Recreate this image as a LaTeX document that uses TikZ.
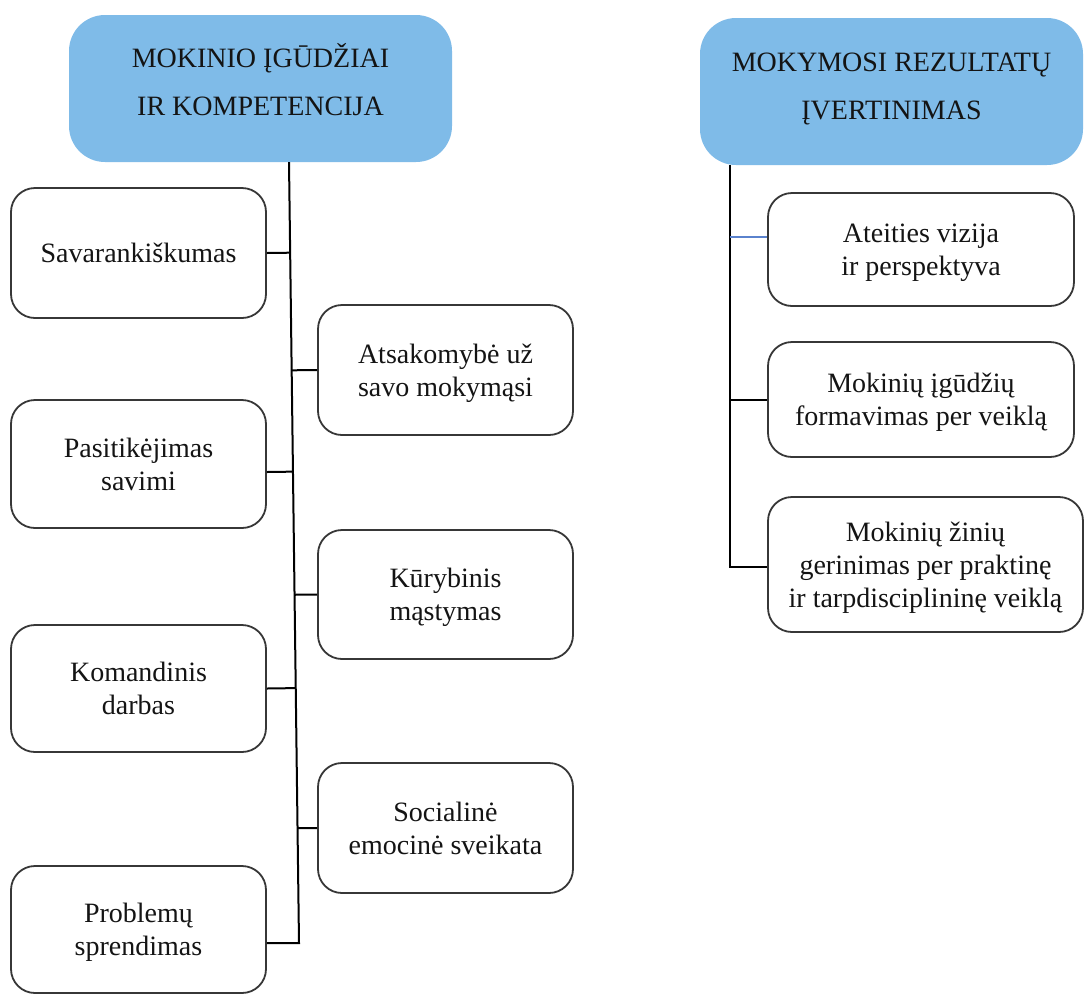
\documentclass[tikz,border=0pt]{standalone}
\usepackage{fontspec}
\setmainfont{Liberation Serif}
\usetikzlibrary{calc}
\definecolor{hdrblue}{RGB}{127,187,232}
\definecolor{boxline}{RGB}{55,55,55}
\definecolor{linkblue}{RGB}{90,130,205}
\definecolor{ink}{RGB}{20,20,20}
\begin{document}
\begin{tikzpicture}[x=1pt,y=-1pt,
  header/.style={fill=hdrblue, rounded corners=36pt, align=center, text=ink,
    font=\fontsize{28}{48}\selectfont, inner sep=0pt},
  item/.style={draw=boxline, line width=1.8pt, fill=white, rounded corners=24pt,
    align=center, text=ink, font=\fontsize{28}{33}\selectfont, inner sep=0pt,
    text depth=-7.5pt},
  leftitem/.style={item, minimum width=255pt},
  rightitem/.style={item, minimum width=306pt},
  link/.style={line width=2pt, black},
  bluelink/.style={line width=2pt, linkblue}]
\useasboundingbox (0,0) rectangle (1084,994);

% headers
\node[header, minimum width=383pt, minimum height=147pt] (hdrL) at (260.5,88.5)
  {MOKINIO ĮGŪDŽIAI\\IR KOMPETENCIJA\rule[-18pt]{0pt}{18pt}};
\node[header, minimum width=383pt, minimum height=147pt] (hdrR) at (891.5,91.5)
  {MOKYMOSI REZULTATŲ\\ĮVERTINIMAS\rule[-11pt]{0pt}{11pt}};

% skills, outer column
\node[leftitem, minimum height=130pt] (sav) at (138.5,253) {Savarankiškumas};
\node[leftitem, minimum height=128pt] (pas) at (138.5,464) {Pasitikėjimas\\savimi};
\node[leftitem, minimum height=127pt] (kom) at (138.5,688.5) {Komandinis\\darbas};
\node[leftitem, minimum height=127pt] (prob) at (138.5,929.5) {Problemų\\sprendimas};

% skills, inner column
\node[leftitem, minimum height=130pt] (ats) at (445.5,370) {Atsakomybė už\\savo mokymąsi};
\node[leftitem, minimum height=129pt] (kur) at (445.5,594.5) {Kūrybinis\\mąstymas};
\node[leftitem, minimum height=130pt] (soc) at (445.5,828) {Socialinė\\emocinė sveikata};

% assessment column
\node[rightitem, minimum height=113pt] (ate) at (921,249.5) {Ateities vizija\\ir perspektyva};
\node[rightitem, minimum height=115pt] (igu) at (921,399.5) {Mokinių įgūdžių\\formavimas per veiklą};
\node[rightitem, minimum width=315pt, minimum height=135pt] (zin) at (925.5,564.5)
  {Mokinių žinių\\gerinimas per praktinę\\ir tarpdisciplininę veiklą};

% left trunk
\coordinate (ltop) at ([xshift=28.5pt]hdrL.south);
\coordinate (lbot) at (299,943);
\draw[link] (ltop) -- (lbot) -- (lbot -| prob.east);
\draw[link] (sav.east) -- ($(ltop)!(sav.east)!(lbot)$);
\coordinate (pasC) at ([yshift=-8pt]pas.east);
\draw[link] (pasC) -- ($(ltop)!(pasC)!(lbot)$);
\draw[link] (kom.east) -- ($(ltop)!(kom.east)!(lbot)$);
\draw[link] (ats.west) -- ($(ltop)!(ats.west)!(lbot)$);
\draw[link] (kur.west) -- ($(ltop)!(kur.west)!(lbot)$);
\draw[link] (soc.west) -- ($(ltop)!(soc.west)!(lbot)$);

% right trunk
\coordinate (rtop) at (730,165);
\coordinate (rbot) at (730,567);
\draw[link] (rtop) -- (rbot) -- (rbot -| zin.west);
\coordinate (ateC) at ([yshift=13pt]ate.west);
\draw[bluelink] (ateC) -- (ateC -| rtop);
\draw[link] (igu.west) -- (igu.west -| rtop);
\end{tikzpicture}
\end{document}
